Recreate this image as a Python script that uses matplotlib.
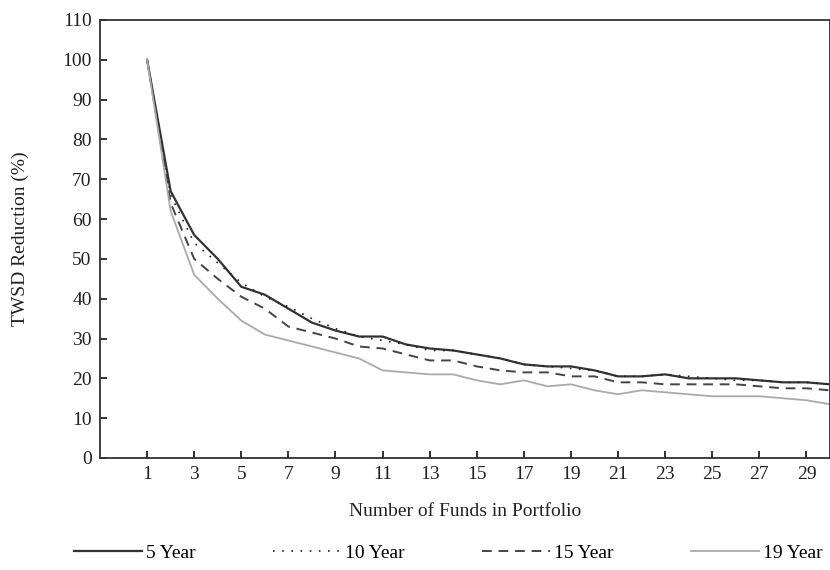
import numpy as np
import matplotlib
matplotlib.use("Agg")
import matplotlib.pyplot as plt

plt.rcParams['font.family'] = ['Liberation Serif', 'DejaVu Serif']

funds = list(range(1, 31))
five_year = [100, 67, 56, 50, 43, 41, 37.5, 34, 32, 30.5, 30.5, 28.5, 27.5, 27, 26,
             25, 23.5, 23, 23, 22, 20.5, 20.5, 21, 20, 20, 20, 19.5, 19, 19, 18.5]
ten_year = [100, 66, 54, 49, 44, 40.5, 38, 35, 32.5, 30.5, 29.5, 28.5, 27, 27, 26,
            25, 23.5, 23, 22.5, 22, 20.5, 20.5, 21, 20.5, 20, 19.5, 19.5, 19, 19, 18.5]
fifteen_year = [100, 64, 50, 45, 40.5, 37.5, 33, 31.5, 30, 28, 27.5, 26, 24.5, 24.5, 23,
                22, 21.5, 21.5, 20.5, 20.5, 19, 19, 18.5, 18.5, 18.5, 18.5, 18, 17.5, 17.5, 17]
nineteen_year = [100, 62, 46, 40, 34.5, 31, 29.5, 28, 26.5, 25, 22, 21.5, 21, 21, 19.5,
                 18.5, 19.5, 18, 18.5, 17, 16, 17, 16.5, 16, 15.5, 15.5, 15.5, 15, 14.5, 13.5]

fs = 14
txt = '#222222'

fig = plt.figure(figsize=(8.3, 5.7), dpi=100)
ax = fig.add_axes([0.1205, 0.1965, 0.8795, 0.7685])

ax.plot(funds, five_year, color='#333333', lw=1.6, ls='-', label='5 Year')
ax.plot(funds, ten_year, color='#222222', lw=1.2, ls=(0, (1, 4.5)), label='10 Year')
ax.plot(funds, fifteen_year, color='#444444', lw=1.4, ls=(0, (5, 3.5)), label='15 Year')
ax.plot(funds, nineteen_year, color='#aaaaaa', lw=1.3, ls='-', label='19 Year')

ax.set_xlim(-1, 30)
ax.set_ylim(0, 110)
ax.set_xticks(range(1, 30, 2))
ax.set_yticks(range(0, 111, 10))
ax.tick_params(direction='in', length=5, width=1.3, labelsize=fs, colors=txt,
               top=False, right=False, pad=6)
for s in ['left', 'bottom', 'top', 'right']:
    ax.spines[s].set_linewidth(1.3)
    ax.spines[s].set_color('#333333')

ax.set_xlabel('Number of Funds in Portfolio', fontsize=fs, color=txt, labelpad=14)
ax.set_ylabel('TWSD Reduction (%)', fontsize=fs, color=txt, labelpad=24)

fig.legend(loc='lower left', bbox_to_anchor=(0.08, 0.0, 0.92, 0.055), ncol=4,
           mode='expand', frameon=False, fontsize=fs, handlelength=3.5,
           handletextpad=0.2, borderaxespad=0.0, columnspacing=1.0)

fig.savefig('out.png', dpi=100)
